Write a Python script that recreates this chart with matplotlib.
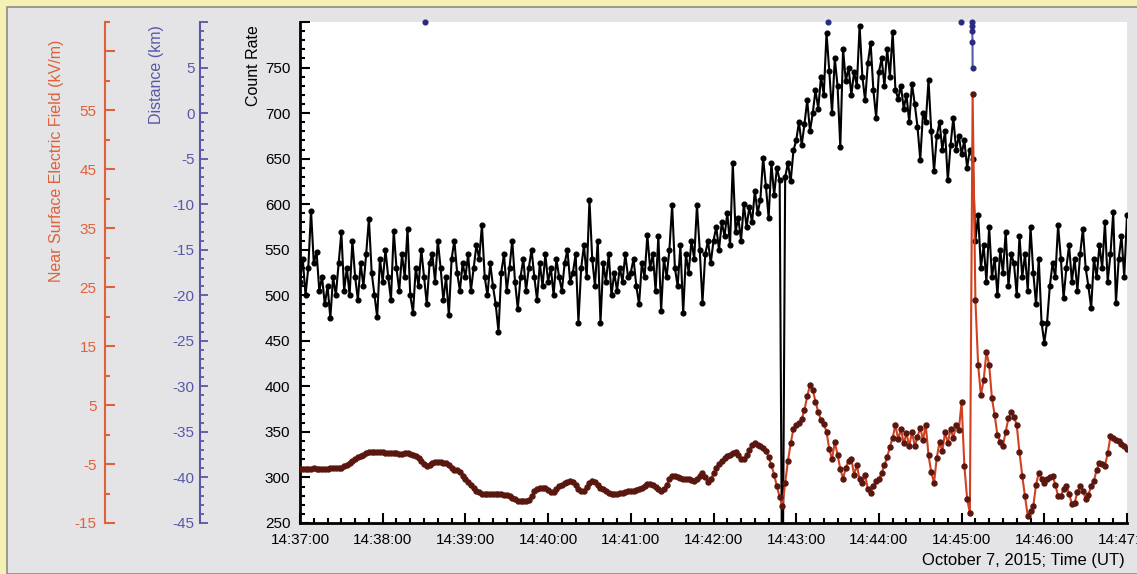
import numpy as np
import matplotlib
matplotlib.use("Agg")
import matplotlib.pyplot as plt
from matplotlib.patches import Rectangle
from matplotlib.ticker import MultipleLocator

plt.rcParams['font.family'] = ['Liberation Sans', 'DejaVu Sans']

# Time axis: seconds after 14:37:00, one sample every 2 s
time_labels = ['14:37:00', '14:38:00', '14:39:00', '14:40:00', '14:41:00', '14:42:00',
               '14:43:00', '14:44:00', '14:45:00', '14:46:00', '14:47:00']
time_ticks = [0, 60, 120, 180, 240, 300, 360, 420, 480, 540, 600]

# Count rate, one list per minute
count_m0 = [515, 540, 500, 530, 593, 535, 548, 505, 520, 490, 510, 475, 520, 500, 535,
            569, 505, 530, 500, 560, 520, 495, 535, 510, 545, 584, 525, 500, 476, 540]
count_m1 = [515, 550, 520, 495, 571, 530, 505, 545, 520, 573, 500, 481, 530, 510, 550,
            520, 490, 535, 545, 515, 560, 530, 495, 520, 478, 540, 560, 525, 505, 535]
count_m2 = [520, 545, 505, 530, 555, 540, 577, 520, 500, 535, 510, 490, 460, 525, 545,
            505, 530, 560, 515, 485, 520, 540, 505, 530, 550, 520, 495, 535, 510, 545]
count_m3 = [515, 530, 500, 540, 520, 505, 535, 550, 515, 525, 545, 470, 530, 555, 520,
            605, 540, 510, 560, 470, 535, 515, 545, 500, 525, 505, 530, 515, 545, 520]
count_m4 = [525, 540, 510, 490, 535, 520, 566, 530, 545, 505, 565, 483, 540, 520, 550,
            599, 530, 510, 555, 480, 545, 525, 560, 540, 599, 550, 492, 545, 560, 535]
count_m5 = [560, 575, 550, 580, 565, 590, 555, 645, 570, 585, 560, 600, 575, 597, 580,
            615, 590, 605, 651, 620, 585, 645, 610, 640, 626, 120, 630, 645, 625, 659]
count_m6 = [670, 690, 665, 688, 714, 680, 700, 725, 705, 740, 720, 788, 746, 700, 760,
            730, 663, 770, 735, 750, 720, 745, 730, 796, 740, 714, 755, 777, 725, 695]
count_m7 = [745, 760, 730, 770, 740, 789, 725, 716, 730, 705, 720, 690, 732, 710, 685,
            649, 700, 690, 736, 680, 636, 675, 690, 660, 680, 626, 665, 695, 660, 675]
count_m8 = [655, 670, 640, 660, 650, 560, 588, 530, 555, 515, 575, 520, 540, 500, 550,
            525, 570, 510, 545, 535, 500, 565, 520, 545, 505, 575, 525, 490, 540, 470]
count_m9 = [448, 470, 510, 535, 520, 577, 540, 497, 530, 555, 515, 540, 505, 545, 573,
            530, 510, 486, 540, 520, 555, 530, 580, 515, 545, 591, 492, 540, 565, 520, 588]

# Near surface electric field (kV/m), same sampling
field_m0 = [-5.8, -5.8, -5.9, -5.8, -5.8, -5.7, -5.8, -5.8, -5.9, -5.8, -5.8, -5.7, -5.7, -5.7, -5.6,
            -5.6, -5.4, -5.1, -4.8, -4.5, -4.1, -3.8, -3.6, -3.4, -3.2, -3.0, -2.9, -2.9, -2.9, -3.0]
field_m1 = [-3.0, -3.1, -3.1, -3.2, -3.2, -3.2, -3.3, -3.3, -3.2, -3.2, -3.3, -3.4, -3.7, -4.0, -4.5,
            -5.0, -5.4, -5.2, -4.8, -4.6, -4.6, -4.7, -4.8, -4.9, -5.2, -5.6, -6.0, -6.0, -6.4, -7.0]
field_m2 = [-7.6, -8.1, -8.6, -9.1, -9.5, -9.8, -10.0, -10.0, -10.1, -10.0, -10.0, -10.1, -10.1, -10.0, -10.2,
            -10.3, -10.4, -10.7, -11.0, -11.2, -11.2, -11.3, -11.2, -11.1, -10.5, -9.6, -9.3, -9.0, -9.1, -9.0]
field_m3 = [-9.4, -9.8, -9.7, -9.2, -8.8, -8.5, -8.2, -8.0, -7.8, -8.0, -8.6, -9.2, -9.6, -9.5, -8.9,
            -8.2, -7.8, -8.1, -8.6, -9.1, -9.3, -9.6, -9.9, -10.0, -10.0, -10.0, -9.9, -9.9, -9.8, -9.6]
field_m4 = [-9.5, -9.5, -9.4, -9.2, -9.0, -8.7, -8.4, -8.3, -8.5, -8.9, -9.3, -9.5, -9.2, -8.5, -7.6,
            -7.0, -7.0, -7.2, -7.3, -7.5, -7.5, -7.6, -7.7, -7.8, -7.6, -7.0, -6.6, -7.2, -8.0, -7.6]
field_m5 = [-6.6, -5.6, -5.0, -4.5, -4.0, -3.6, -3.4, -3.2, -3.0, -3.4, -4.2, -4.2, -3.5, -2.6, -1.8,
            -1.5, -1.7, -2.0, -2.3, -2.8, -3.8, -5.2, -6.8, -8.8, -10.6, -12.1, -8.2, -4.5, -1.5, 1.0]
field_m6 = [1.6, 2.0, 2.6, 4.2, 6.5, 8.4, 7.6, 5.6, 3.8, 2.5, 1.8, 0.5, -2.5, -4.1, -1.3,
            -3.4, -5.8, -7.5, -5.6, -4.5, -4.1, -6.8, -5.2, -7.6, -8.2, -6.9, -9.3, -9.9, -8.8, -7.9]
field_m7 = [-7.6, -6.5, -5.2, -3.8, -2.1, -0.5, 1.6, -0.8, 0.9, -1.5, 0.2, -2.0, 0.5, -1.9, -0.4,
            1.2, -0.9, 1.6, -3.5, -6.4, -8.2, -3.9, -1.3, -2.8, 0.4, -1.5, 1.0, -0.6, 1.6, 0.8]
field_m8 = [5.5, -5.3, -10.9, -13.3, 57.7, 22.9, 11.8, 6.7, 9.2, 14.0, 11.8, 6.2, 3.3, -0.1, -1.2,
            -1.9, 0.5, 2.8, 3.8, 3.0, 1.6, -3.0, -7.0, -10.5, -13.8, -13.0, -12.2, -8.5, -6.5, -7.5]
field_m9 = [-8.2, -7.6, -7.2, -7.0, -8.5, -10.4, -10.5, -9.2, -8.7, -10.0, -11.8, -11.6, -9.8, -8.7, -9.6,
            -10.9, -10.2, -8.8, -7.8, -6.0, -4.8, -5.0, -5.3, -3.2, -0.3, -0.6, -1.0, -1.1, -1.6, -2.0, -2.4]

# Lightning distance (km)
strike_t = [90.7, 383.0, 479.5, 487.6, 487.7, 487.8, 487.9, 488.0]
strike_km = [10.0, 10.0, 10.0, 10.0, 9.6, 9.0, 7.8, 5.0]

count = count_m0 + count_m1 + count_m2 + count_m3 + count_m4 + count_m5 + count_m6 + count_m7 + count_m8 + count_m9
field = field_m0 + field_m1 + field_m2 + field_m3 + field_m4 + field_m5 + field_m6 + field_m7 + field_m8 + field_m9
t = np.arange(len(count)) * 2

RED = '#e0603a'
BLUE = '#5858a8'
W, H = 1137, 574

fig = plt.figure(figsize=(W / 100, H / 100), dpi=100)
fig.patch.set_facecolor('#f6f1b2')
fig.patches.append(Rectangle((7 / W, 0), 1, 1 - 7 / H, transform=fig.transFigure,
                             facecolor='#e4e4e6', edgecolor='#8c8c84', lw=1.2, zorder=-10))

ax = fig.add_axes([300 / W, 1 - 523 / H, 827 / W, 501 / H])
ax.set_facecolor('white')
ax.plot(t, count, color='black', lw=1.5, marker='o', ms=3.4, zorder=3)
ax.set_xlim(0, 600)
ax.set_ylim(250, 800)
ax.set_xticks(time_ticks, time_labels)
ax.xaxis.set_minor_locator(MultipleLocator(10))
ax.set_yticks(range(250, 801, 50), [str(v) for v in range(250, 751, 50)] + [''])
ax.yaxis.set_minor_locator(MultipleLocator(10))
ax.tick_params(which='both', direction='in', width=1.5, labelsize=11, color='black')
ax.tick_params(which='major', length=7)
ax.tick_params(which='minor', length=3.5)
ax.tick_params(axis='y', pad=7)
ax.tick_params(axis='x', pad=7)
for s in ['top', 'right']:
    ax.spines[s].set_visible(False)
ax.spines['left'].set_linewidth(2)
ax.spines['bottom'].set_linewidth(2)

# Electric field axis (red)
ax_e = ax.twinx()
ax_e.plot(t, field, color='#d2401f', lw=1.5, marker='o', ms=3.6, mfc='#5a1710', mec='#5a1710', zorder=2)
ax_e.set_ylim(-15, 70)
ax_e.yaxis.set_ticks_position('left')
ax_e.set_yticks(range(-15, 66, 10), ['-15', '-5', '5', '15', '25', '35', '45', '55', ''])
ax_e.yaxis.set_minor_locator(MultipleLocator(10))
ax_e.tick_params(which='both', direction='in', width=1.5, color=RED, labelcolor=RED, labelsize=11, pad=6)
ax_e.tick_params(which='major', length=7)
ax_e.tick_params(which='minor', length=3.5)
for s in ['top', 'right', 'bottom']:
    ax_e.spines[s].set_visible(False)
ax_e.spines['left'].set_position(('axes', (105 - 300) / 827))
ax_e.spines['left'].set_color(RED)
ax_e.spines['left'].set_linewidth(1.5)

# Distance axis (blue)
ax_d = ax.twinx()
groups = []
for i in range(len(strike_t)):
    if i == 0 or strike_t[i] - strike_t[i - 1] > 2:
        groups.append([i])
    else:
        groups[-1].append(i)
for g in groups:
    ax_d.plot([strike_t[i] for i in g], [strike_km[i] for i in g], color=BLUE, lw=1.5,
              marker='o', ms=3.4, mfc='#2a2a80', mec='#2a2a80', clip_on=False, zorder=4)
ax_d.set_ylim(-45, 10)
ax_d.yaxis.set_ticks_position('left')
ax_d.set_yticks(range(-45, 11, 5), [str(v) for v in range(-45, 6, 5)] + [''])
ax_d.yaxis.set_minor_locator(MultipleLocator(1))
ax_d.tick_params(which='both', direction='in', width=1.3, color=BLUE, labelcolor=BLUE, labelsize=11, pad=4)
ax_d.tick_params(which='major', length=6)
ax_d.tick_params(which='minor', length=3)
for s in ['top', 'right', 'bottom']:
    ax_d.spines[s].set_visible(False)
ax_d.spines['left'].set_position(('axes', (200 - 300) / 827))
ax_d.spines['left'].set_color(BLUE)
ax_d.spines['left'].set_linewidth(1.5)

fig.text(253 / W, 1 - 25 / H, 'Count Rate', rotation=90, ha='center', va='top', fontsize=11.5, color='black')
fig.text(156 / W, 1 - 25 / H, 'Distance (km)', rotation=90, ha='center', va='top', fontsize=11.5, color=BLUE)
fig.text(57 / W, 1 - 40 / H, 'Near Surface Electric Field (kV/m)', rotation=90, ha='center', va='top',
         fontsize=11.5, color=RED)
fig.text(1125 / W, 1 - 560 / H, 'October 7, 2015; Time (UT)', ha='right', va='center', fontsize=12)

fig.savefig('out.png', dpi=100, facecolor=fig.get_facecolor())
